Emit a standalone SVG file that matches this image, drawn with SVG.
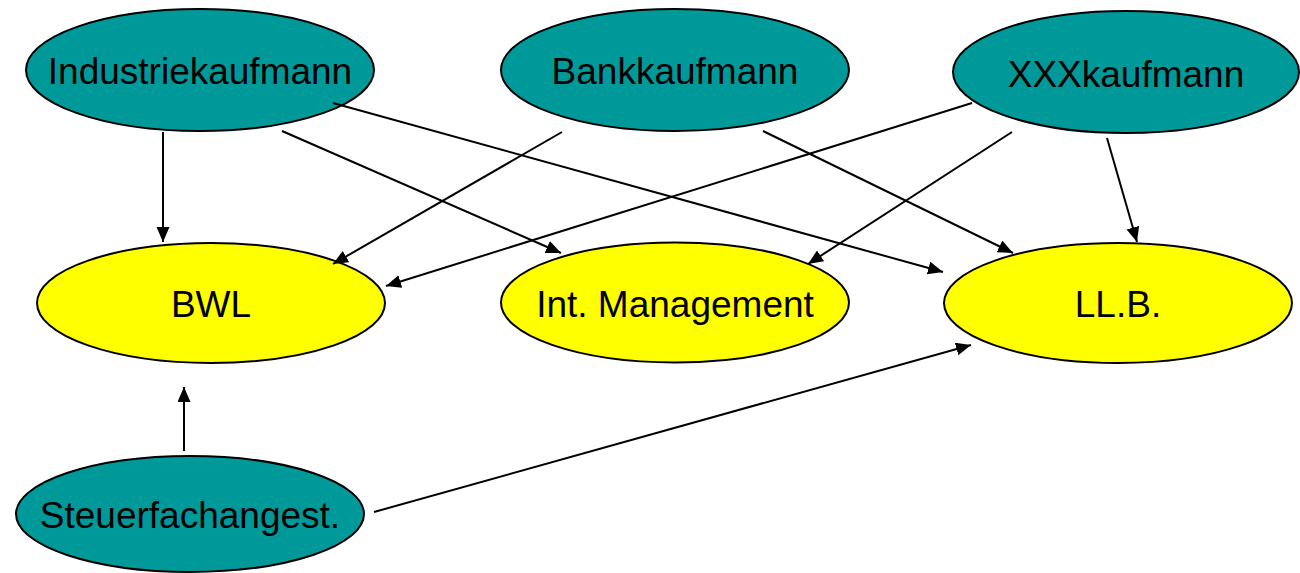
<svg xmlns="http://www.w3.org/2000/svg" width="1300" height="573" viewBox="0 0 1300 573">
<style>
.teal{fill:#009999;stroke:#000;stroke-width:2}
.yel{fill:#FFFF00;stroke:#000;stroke-width:2}
.lbl{font-family:"Liberation Sans",Arial,sans-serif;font-size:37px;fill:#000;text-anchor:middle}
.edge{stroke:#000;stroke-width:2;fill:none;marker-end:url(#ah)}
</style>
<defs>
<marker id="ah" markerUnits="userSpaceOnUse" markerWidth="16" markerHeight="14" refX="15" refY="6.5" orient="auto">
<path d="M0,0 L15,6.5 L0,13 z" fill="#000"/>
</marker>
</defs>
<rect width="1300" height="573" fill="#fff"/>
<g id="n-industrie"><ellipse class="teal" cx="200" cy="70" rx="174" ry="61"/><text class="lbl" x="200" y="84">Industriekaufmann</text></g>
<g id="n-bank"><ellipse class="teal" cx="675" cy="70" rx="174" ry="61"/><text class="lbl" x="675" y="84">Bankkaufmann</text></g>
<g id="n-xxx"><ellipse class="teal" cx="1126" cy="72" rx="173" ry="61"/><text class="lbl" x="1126" y="87">XXXkaufmann</text></g>
<g id="n-bwl"><ellipse class="yel" cx="211" cy="303" rx="174" ry="60"/><text class="lbl" x="211" y="317">BWL</text></g>
<g id="n-intm"><ellipse class="yel" cx="675" cy="302.5" rx="174" ry="60"/><text class="lbl" x="675" y="317">Int. Management</text></g>
<g id="n-llb"><ellipse class="yel" cx="1118" cy="303" rx="174" ry="60"/><text class="lbl" x="1118" y="317">LL.B.</text></g>
<g id="n-steuer"><ellipse class="teal" cx="190" cy="514" rx="174" ry="58"/><text class="lbl" x="190" y="528">Steuerfachangest.</text></g>
<g id="connectors">
<line class="edge" x1="163" y1="132" x2="163" y2="242"/>
<line class="edge" x1="282" y1="131" x2="561" y2="253"/>
<line class="edge" x1="333" y1="103" x2="943" y2="272"/>
<line class="edge" x1="562" y1="132" x2="333" y2="264"/>
<line class="edge" x1="763" y1="131" x2="1013" y2="253"/>
<line class="edge" x1="972" y1="103" x2="386" y2="286"/>
<line class="edge" x1="1012" y1="132" x2="808" y2="264"/>
<line class="edge" x1="1107" y1="138" x2="1137" y2="242"/>
<line class="edge" x1="184" y1="451" x2="184" y2="387"/>
<line class="edge" x1="374" y1="512" x2="971" y2="345"/>
</g>
</svg>
